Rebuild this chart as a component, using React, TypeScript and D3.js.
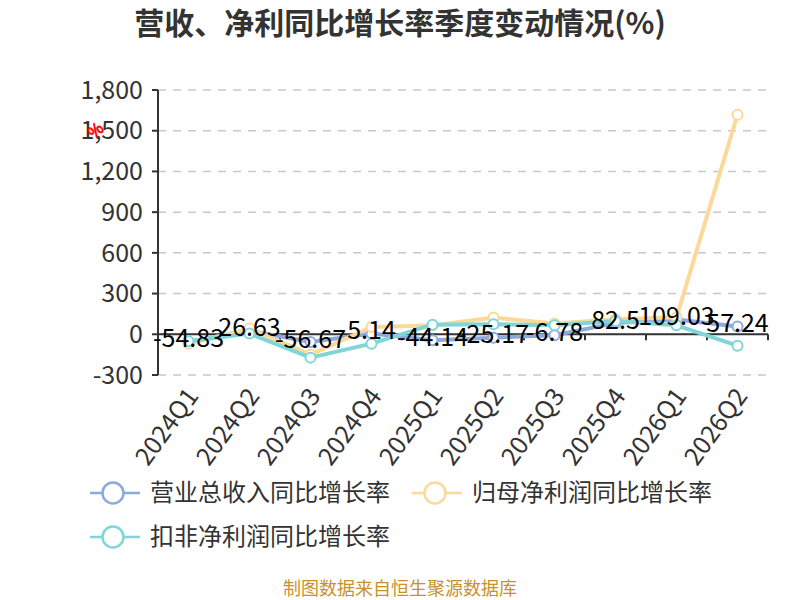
import * as d3 from "d3";

const quarters = ["2024Q1", "2024Q2", "2024Q3", "2024Q4", "2025Q1", "2025Q2", "2025Q3", "2025Q4", "2026Q1", "2026Q2"];
const revenueYoY = [-54.83, 26.63, -56.67, 5.14, -44.14, -25.17, -6.78, 82.5, 109.03, 57.24];
const netProfitYoY = [-70, 42, -150, 54, 65, 123, 80, 110, 125, 1618];
const deductedYoY = [-52, 5, -172, -69, 71, 74, 66, 98, 66, -84];
const yTicks = [-300, 0, 300, 600, 900, 1200, 1500, 1800];

const seriesList = [
  { name: "营业总收入同比增长率", values: revenueYoY, color: "#8eaadc" },
  { name: "归母净利润同比增长率", values: netProfitYoY, color: "#fdd89b" },
  { name: "扣非净利润同比增长率", values: deductedYoY, color: "#80d5d8" },
];

const W = 800;
const H = 600;
const grid = { left: 158, right: 768, top: 90, bottom: 375 };
const FONT = "'Noto Sans CJK SC', 'Noto Sans', sans-serif";

// echarts-style: plain hyphen for negatives, thousands separator
const fmt = (v: number) => d3.format(",")(v).replace("−", "-");

export default function App() {
  const x = d3.scaleBand<string>().domain(quarters).range([grid.left, grid.right]);
  const y = d3.scaleLinear().domain([-300, 1800]).range([grid.bottom, grid.top]);
  const cx = (q: string) => (x(q) ?? 0) + x.bandwidth() / 2;
  const line = d3.line<number>()
    .x((_, i) => cx(quarters[i]))
    .y(d => y(d));

  const legendPos = [
    { x: 90, y: 493 },
    { x: 412, y: 493 },
    { x: 90, y: 537 },
  ];

  return (
    <svg width={W} height={H} style={{ position: "absolute", left: 0, top: 0 }} fontFamily={FONT}>
      <rect width={W} height={H} fill="#fff" />
      <text x={400} y={34} textAnchor="middle" fontSize={30} fontWeight="bold" fill="#333">
        营收、净利同比增长率季度变动情况(%)
      </text>

      {/* grid lines */}
      {yTicks.map(t => (
        <line key={t} x1={grid.left} x2={grid.right} y1={y(t)} y2={y(t)}
          stroke="#c8c8c8" strokeWidth={1.5} strokeDasharray="8,7" />
      ))}

      {/* y axis */}
      <line x1={grid.left} x2={grid.left} y1={grid.top} y2={grid.bottom} stroke="#333" strokeWidth={2} />
      {yTicks.map(t => (
        <g key={t}>
          <line x1={grid.left - 6} x2={grid.left} y1={y(t)} y2={y(t)} stroke="#333" strokeWidth={2} />
          <text x={grid.left - 15} y={y(t)} dy="0.35em" textAnchor="end" fontSize={25} fill="#333">
            {fmt(t)}
          </text>
        </g>
      ))}
      <text x={96} y={136} textAnchor="middle" fontSize={16} fill="none" stroke="red" strokeWidth={0.9}
        transform="rotate(-40 96 131)">%</text>

      {/* x axis at zero */}
      <line x1={grid.left} x2={grid.right} y1={y(0)} y2={y(0)} stroke="#333" strokeWidth={2} />
      {quarters.map(q => (
        <line key={q} x1={(x(q) ?? 0) + x.bandwidth()} x2={(x(q) ?? 0) + x.bandwidth()}
          y1={y(0)} y2={y(0) + 6} stroke="#333" strokeWidth={2} />
      ))}
      {quarters.map(q => (
        <text key={q} x={cx(q) + 4} y={grid.bottom + 16} textAnchor="end" fontSize={25} fill="#333"
          dy="0.35em" transform={`rotate(-54 ${cx(q) + 4} ${grid.bottom + 16})`}>
          {q}
        </text>
      ))}

      {/* series */}
      {seriesList.map(s => (
        <g key={s.name}>
          <path d={line(s.values) ?? ""} fill="none" stroke={s.color} strokeWidth={4} strokeLinejoin="round" />
          {s.values.map((v, i) => (
            <circle key={i} cx={cx(quarters[i])} cy={y(v)} r={5} fill="#fff" stroke={s.color} strokeWidth={2} />
          ))}
        </g>
      ))}

      {/* data labels for revenue */}
      {revenueYoY.map((v, i) => (
        <text key={i} x={cx(quarters[i])} y={y(v) - 3} dy="0.35em" textAnchor="middle" fontSize={25} fill="#000">
          {fmt(v)}
        </text>
      ))}

      {/* legend */}
      {seriesList.map((s, i) => {
        const p = legendPos[i];
        return (
          <g key={s.name}>
            <line x1={p.x} x2={p.x + 50} y1={p.y} y2={p.y} stroke={s.color} strokeWidth={2.5} />
            <circle cx={p.x + 23} cy={p.y} r={10.5} fill="#fff" stroke={s.color} strokeWidth={2.5} />
            <text x={p.x + 60} y={p.y} dy="0.35em" fontSize={24} fill="#333">{s.name}</text>
          </g>
        );
      })}

      <text x={400} y={589} dy="0.35em" textAnchor="middle" fontSize={18} fill="#c8912c">
        制图数据来自恒生聚源数据库
      </text>
    </svg>
  );
}
